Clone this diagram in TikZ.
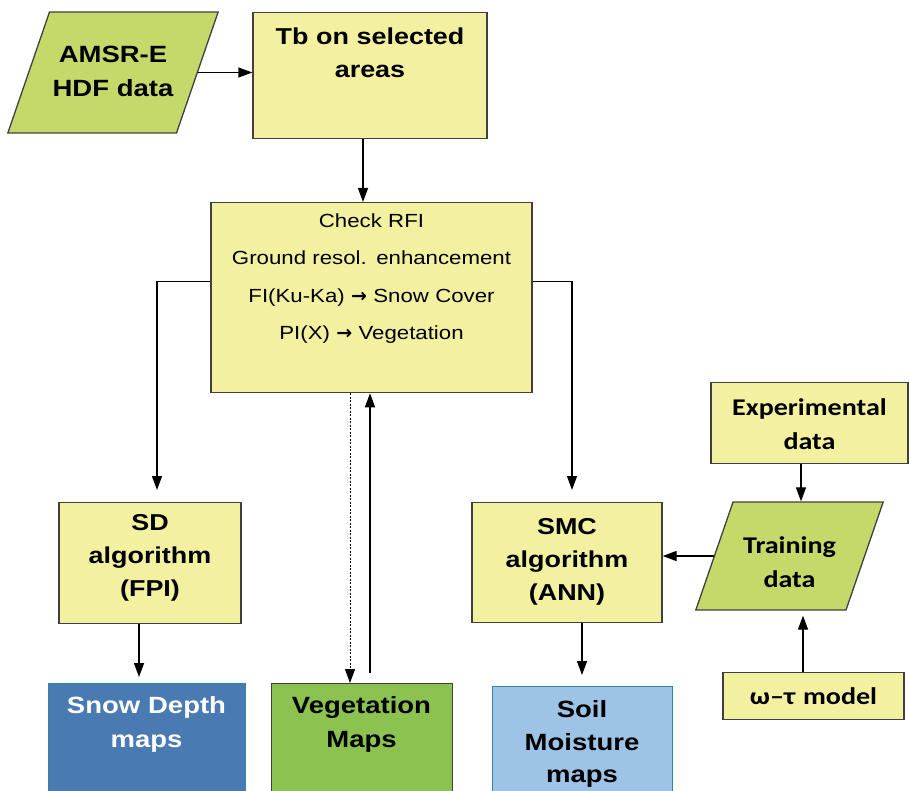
\documentclass[tikz,border=0pt]{standalone}
\usepackage{fontspec}
\setmainfont{Liberation Sans}[FakeStretch=1.17]
\newfontfamily\calfont{Carlito}[FakeStretch=1.17]
\newfontfamily\symfont{DejaVu Sans}
\usetikzlibrary{arrows.meta,shapes.geometric}
\definecolor{boxyellow}{HTML}{F3F1A0}
\definecolor{datagreen}{HTML}{C4D96A}
\definecolor{veggreen}{HTML}{8CC350}
\definecolor{snowblue}{HTML}{4A7AB2}
\definecolor{soilblue}{HTML}{9DC3E6}
\definecolor{mapedge}{HTML}{31859C}
\begin{document}
\begin{tikzpicture}[x=1pt,y=-1pt,
  every node/.style={inner sep=0pt,align=center},
  box/.style={draw=black!75,line width=1.3pt,fill=boxyellow,anchor=north},
  datashape/.style={trapezium,trapezium left angle=71,trapezium right angle=109,
    trapezium stretches body,draw=black!75,line width=1.3pt,fill=datagreen},
  mapbox/.style={line width=1pt,anchor=north,font=\bfseries\fontsize{23.5}{33.5}\selectfont},
  bigfont/.style={font=\bfseries\fontsize{23}{33}\selectfont},
  calfont/.style={font=\calfont\bfseries\fontsize{24}{34}\selectfont},
  flow/.style={-{Triangle[length=14pt,width=10pt]},line width=1.3pt}]
  \path[use as bounding box,clip] (0,0) rectangle (909,791);
  % Input data
  \node[datashape,text width=127pt,text height=51pt,text depth=70pt,
    font=\bfseries\fontsize{23.5}{34}\selectfont] (amsr) at (113,72.5) {AMSR-E\\HDF data};
  \node[box,bigfont,text width=234pt,text height=32pt,text depth=94pt] (tb) at (370,12) {Tb on selected\\areas};
  % Pre-processing
  \node[box,text width=321pt,text height=25pt,text depth=165pt,
    font=\fontsize{19}{37.3}\selectfont] (check) at (371.5,202)
    {Check RFI\\Ground resol. enhancement\\FI(Ku-Ka) {\symfont\bfseries →} Snow Cover\\PI(X) {\symfont\bfseries →} Vegetation};
  % Algorithms
  \node[box,bigfont,text width=182pt,text height=28pt,text depth=93pt] (sd) at (150,502) {SD\\algorithm\\(FPI)};
  \node[box,bigfont,text width=190pt,text height=32pt,text depth=88pt] (smc) at (567,502) {SMC\\algorithm\\(ANN)};
  % Training branch
  \node[box,calfont,text width=197pt,text height=33pt,text depth=48pt] (exp) at (809.5,382) {Experimental\\data};
  \node[datashape,calfont,text width=113pt,text height=51pt,text depth=57pt] (train) at (789.5,556) {Training\\data};
  \node[box,calfont,text width=181pt,text height=32pt,text depth=15pt] (omega) at (813.5,672) {ω–τ model};
  % Output maps
  \node[mapbox,draw=mapedge,fill=snowblue,text=white,text width=197pt,text height=30pt,text depth=87pt] (snow) at (146.5,683) {Snow Depth\\maps};
  \node[mapbox,draw=black!75,fill=veggreen,text width=181pt,text height=30pt,text depth=87pt] (veg) at (361.5,683) {Vegetation\\Maps};
  \node[mapbox,draw=mapedge,fill=soilblue,text width=180pt,text height=31pt,text depth=83pt,
    font=\bfseries\fontsize{23.5}{32.5}\selectfont] (soil) at (582,686) {Soil\\Moisture\\maps};
  % Connectors
  \draw[flow] (amsr.east) -- (amsr.east -| tb.west);
  \draw[flow] ([xshift=-7pt]tb.south) -- ([xshift=-7pt]tb.south |- check.north);
  \draw[flow,shorten >=12pt] ([yshift=16pt]check.west) -| ([xshift=7pt]sd.north);
  \draw[flow,shorten >=12pt] ([yshift=16pt]check.east) -| ([xshift=5pt]smc.north);
  \draw[flow,line width=1pt,dash pattern=on 2pt off 1.5pt] ([xshift=-11.5pt]veg.north |- check.south) -- ([xshift=-11.5pt]veg.north);
  \draw[flow,shorten <=10pt] ([xshift=8.5pt]veg.north) -- ([xshift=8.5pt]veg.north |- check.south);
  \draw[flow,shorten >=6pt] ([xshift=-11pt]sd.south) -- ([xshift=-11pt]sd.south |- snow.north);
  \draw[flow,shorten >=11pt] (smc.south -| soil.north) -- (soil.north);
  \draw[flow] ([xshift=-8.5pt]exp.south) -- ([xshift=-8.5pt]exp.south |- train.north);
  \draw[flow,shorten >=5pt] ([xshift=-10.5pt]omega.north) -- ([xshift=-10.5pt]omega.north |- train.south);
  \draw[flow] (train.west) -- (train.west -| smc.east);
\end{tikzpicture}
\end{document}
